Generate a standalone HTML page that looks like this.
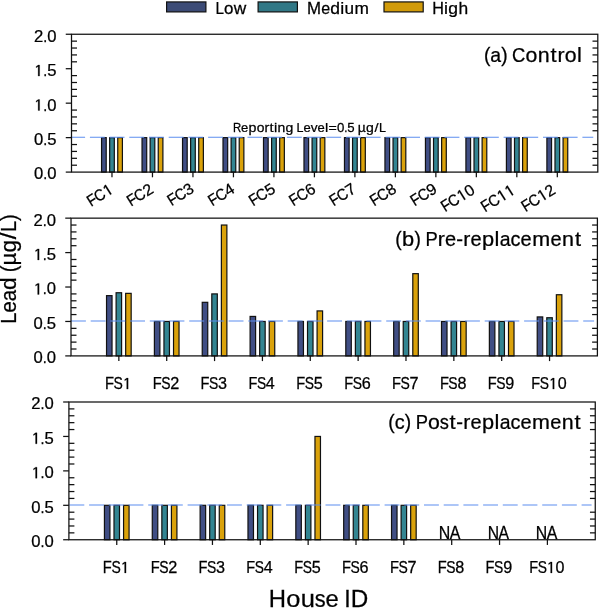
<!DOCTYPE html>
<html><head><meta charset="utf-8"><style>
html,body{margin:0;padding:0;background:#fff;}
svg{display:block;will-change:transform;}
text{font-family:"Liberation Sans", sans-serif;stroke:#000;stroke-width:0.25px;}
.one{stroke:#000;}
</style></head><body>
<svg width="600" height="609" viewBox="0 0 600 609">
<rect width="600" height="609" fill="#fff"/>
<rect x="166.60" y="1.93" width="39.30" height="9.97" fill="#3c4b76" stroke="#111" stroke-width="1.2"/>
<rect x="258.10" y="1.93" width="39.30" height="9.97" fill="#317886" stroke="#111" stroke-width="1.2"/>
<rect x="384.00" y="1.93" width="39.20" height="9.97" fill="#d19b0a" stroke="#111" stroke-width="1.2"/>
<rect x="101.56" y="137.64" width="4.66" height="34.46" fill="#404e84" stroke="#111" stroke-width="1.2"/>
<rect x="109.66" y="137.64" width="4.66" height="34.46" fill="#338592" stroke="#111" stroke-width="1.2"/>
<rect x="117.75" y="137.64" width="4.66" height="34.46" fill="#daa20b" stroke="#111" stroke-width="1.2"/>
<rect x="142.04" y="137.64" width="4.66" height="34.46" fill="#404e84" stroke="#111" stroke-width="1.2"/>
<rect x="150.14" y="137.64" width="4.66" height="34.46" fill="#338592" stroke="#111" stroke-width="1.2"/>
<rect x="158.24" y="137.64" width="4.66" height="34.46" fill="#daa20b" stroke="#111" stroke-width="1.2"/>
<rect x="182.53" y="137.64" width="4.66" height="34.46" fill="#404e84" stroke="#111" stroke-width="1.2"/>
<rect x="190.63" y="137.64" width="4.66" height="34.46" fill="#338592" stroke="#111" stroke-width="1.2"/>
<rect x="198.72" y="137.64" width="4.66" height="34.46" fill="#daa20b" stroke="#111" stroke-width="1.2"/>
<rect x="223.01" y="137.64" width="4.66" height="34.46" fill="#404e84" stroke="#111" stroke-width="1.2"/>
<rect x="231.11" y="137.64" width="4.66" height="34.46" fill="#338592" stroke="#111" stroke-width="1.2"/>
<rect x="239.21" y="137.64" width="4.66" height="34.46" fill="#daa20b" stroke="#111" stroke-width="1.2"/>
<rect x="263.50" y="137.64" width="4.66" height="34.46" fill="#404e84" stroke="#111" stroke-width="1.2"/>
<rect x="271.60" y="137.64" width="4.66" height="34.46" fill="#338592" stroke="#111" stroke-width="1.2"/>
<rect x="279.69" y="137.64" width="4.66" height="34.46" fill="#daa20b" stroke="#111" stroke-width="1.2"/>
<rect x="303.98" y="137.64" width="4.66" height="34.46" fill="#404e84" stroke="#111" stroke-width="1.2"/>
<rect x="312.08" y="137.64" width="4.66" height="34.46" fill="#338592" stroke="#111" stroke-width="1.2"/>
<rect x="320.18" y="137.64" width="4.66" height="34.46" fill="#daa20b" stroke="#111" stroke-width="1.2"/>
<rect x="344.47" y="137.64" width="4.66" height="34.46" fill="#404e84" stroke="#111" stroke-width="1.2"/>
<rect x="352.56" y="137.64" width="4.66" height="34.46" fill="#338592" stroke="#111" stroke-width="1.2"/>
<rect x="360.66" y="137.64" width="4.66" height="34.46" fill="#daa20b" stroke="#111" stroke-width="1.2"/>
<rect x="384.95" y="137.64" width="4.66" height="34.46" fill="#404e84" stroke="#111" stroke-width="1.2"/>
<rect x="393.05" y="137.64" width="4.66" height="34.46" fill="#338592" stroke="#111" stroke-width="1.2"/>
<rect x="401.15" y="137.64" width="4.66" height="34.46" fill="#daa20b" stroke="#111" stroke-width="1.2"/>
<rect x="425.44" y="137.64" width="4.66" height="34.46" fill="#404e84" stroke="#111" stroke-width="1.2"/>
<rect x="433.53" y="137.64" width="4.66" height="34.46" fill="#338592" stroke="#111" stroke-width="1.2"/>
<rect x="441.63" y="137.64" width="4.66" height="34.46" fill="#daa20b" stroke="#111" stroke-width="1.2"/>
<rect x="465.92" y="137.64" width="4.66" height="34.46" fill="#404e84" stroke="#111" stroke-width="1.2"/>
<rect x="474.02" y="137.64" width="4.66" height="34.46" fill="#338592" stroke="#111" stroke-width="1.2"/>
<rect x="482.12" y="137.64" width="4.66" height="34.46" fill="#daa20b" stroke="#111" stroke-width="1.2"/>
<rect x="506.41" y="137.64" width="4.66" height="34.46" fill="#404e84" stroke="#111" stroke-width="1.2"/>
<rect x="514.50" y="137.64" width="4.66" height="34.46" fill="#338592" stroke="#111" stroke-width="1.2"/>
<rect x="522.60" y="137.64" width="4.66" height="34.46" fill="#daa20b" stroke="#111" stroke-width="1.2"/>
<rect x="546.89" y="137.64" width="4.66" height="34.46" fill="#404e84" stroke="#111" stroke-width="1.2"/>
<rect x="554.99" y="137.64" width="4.66" height="34.46" fill="#338592" stroke="#111" stroke-width="1.2"/>
<rect x="563.08" y="137.64" width="4.66" height="34.46" fill="#daa20b" stroke="#111" stroke-width="1.2"/>
<line x1="70.20" y1="137.15" x2="593.25" y2="137.15" stroke="#5d8ef0" stroke-width="1.05" stroke-dasharray="14.9 4.8"/>
<rect x="71.50" y="34.25" width="526.30" height="137.85" fill="none" stroke="#111" stroke-width="1.25"/>
<line x1="65.75" y1="172.10" x2="71.50" y2="172.10" stroke="#111" stroke-width="1.25" />
<line x1="71.50" y1="165.21" x2="77.00" y2="165.21" stroke="#111" stroke-width="1.25" />
<line x1="592.50" y1="165.21" x2="597.80" y2="165.21" stroke="#111" stroke-width="1.25" />
<line x1="71.50" y1="158.31" x2="77.00" y2="158.31" stroke="#111" stroke-width="1.25" />
<line x1="592.50" y1="158.31" x2="597.80" y2="158.31" stroke="#111" stroke-width="1.25" />
<line x1="71.50" y1="151.42" x2="77.00" y2="151.42" stroke="#111" stroke-width="1.25" />
<line x1="592.50" y1="151.42" x2="597.80" y2="151.42" stroke="#111" stroke-width="1.25" />
<line x1="71.50" y1="144.53" x2="77.00" y2="144.53" stroke="#111" stroke-width="1.25" />
<line x1="592.50" y1="144.53" x2="597.80" y2="144.53" stroke="#111" stroke-width="1.25" />
<line x1="65.75" y1="137.64" x2="71.50" y2="137.64" stroke="#111" stroke-width="1.25" />
<line x1="71.50" y1="130.75" x2="77.00" y2="130.75" stroke="#111" stroke-width="1.25" />
<line x1="592.50" y1="130.75" x2="597.80" y2="130.75" stroke="#111" stroke-width="1.25" />
<line x1="71.50" y1="123.85" x2="77.00" y2="123.85" stroke="#111" stroke-width="1.25" />
<line x1="592.50" y1="123.85" x2="597.80" y2="123.85" stroke="#111" stroke-width="1.25" />
<line x1="71.50" y1="116.96" x2="77.00" y2="116.96" stroke="#111" stroke-width="1.25" />
<line x1="592.50" y1="116.96" x2="597.80" y2="116.96" stroke="#111" stroke-width="1.25" />
<line x1="71.50" y1="110.07" x2="77.00" y2="110.07" stroke="#111" stroke-width="1.25" />
<line x1="592.50" y1="110.07" x2="597.80" y2="110.07" stroke="#111" stroke-width="1.25" />
<line x1="65.75" y1="103.17" x2="71.50" y2="103.17" stroke="#111" stroke-width="1.25" />
<line x1="71.50" y1="96.28" x2="77.00" y2="96.28" stroke="#111" stroke-width="1.25" />
<line x1="592.50" y1="96.28" x2="597.80" y2="96.28" stroke="#111" stroke-width="1.25" />
<line x1="71.50" y1="89.39" x2="77.00" y2="89.39" stroke="#111" stroke-width="1.25" />
<line x1="592.50" y1="89.39" x2="597.80" y2="89.39" stroke="#111" stroke-width="1.25" />
<line x1="71.50" y1="82.50" x2="77.00" y2="82.50" stroke="#111" stroke-width="1.25" />
<line x1="592.50" y1="82.50" x2="597.80" y2="82.50" stroke="#111" stroke-width="1.25" />
<line x1="71.50" y1="75.61" x2="77.00" y2="75.61" stroke="#111" stroke-width="1.25" />
<line x1="592.50" y1="75.61" x2="597.80" y2="75.61" stroke="#111" stroke-width="1.25" />
<line x1="65.75" y1="68.71" x2="71.50" y2="68.71" stroke="#111" stroke-width="1.25" />
<line x1="71.50" y1="61.82" x2="77.00" y2="61.82" stroke="#111" stroke-width="1.25" />
<line x1="592.50" y1="61.82" x2="597.80" y2="61.82" stroke="#111" stroke-width="1.25" />
<line x1="71.50" y1="54.93" x2="77.00" y2="54.93" stroke="#111" stroke-width="1.25" />
<line x1="592.50" y1="54.93" x2="597.80" y2="54.93" stroke="#111" stroke-width="1.25" />
<line x1="71.50" y1="48.03" x2="77.00" y2="48.03" stroke="#111" stroke-width="1.25" />
<line x1="592.50" y1="48.03" x2="597.80" y2="48.03" stroke="#111" stroke-width="1.25" />
<line x1="71.50" y1="41.14" x2="77.00" y2="41.14" stroke="#111" stroke-width="1.25" />
<line x1="592.50" y1="41.14" x2="597.80" y2="41.14" stroke="#111" stroke-width="1.25" />
<line x1="65.75" y1="34.25" x2="71.50" y2="34.25" stroke="#111" stroke-width="1.25" />
<line x1="111.98" y1="172.10" x2="111.98" y2="177.30" stroke="#111" stroke-width="1.25" />
<line x1="152.47" y1="172.10" x2="152.47" y2="177.30" stroke="#111" stroke-width="1.25" />
<line x1="192.95" y1="172.10" x2="192.95" y2="177.30" stroke="#111" stroke-width="1.25" />
<line x1="233.44" y1="172.10" x2="233.44" y2="177.30" stroke="#111" stroke-width="1.25" />
<line x1="273.92" y1="172.10" x2="273.92" y2="177.30" stroke="#111" stroke-width="1.25" />
<line x1="314.41" y1="172.10" x2="314.41" y2="177.30" stroke="#111" stroke-width="1.25" />
<line x1="354.89" y1="172.10" x2="354.89" y2="177.30" stroke="#111" stroke-width="1.25" />
<line x1="395.38" y1="172.10" x2="395.38" y2="177.30" stroke="#111" stroke-width="1.25" />
<line x1="435.86" y1="172.10" x2="435.86" y2="177.30" stroke="#111" stroke-width="1.25" />
<line x1="476.35" y1="172.10" x2="476.35" y2="177.30" stroke="#111" stroke-width="1.25" />
<line x1="516.83" y1="172.10" x2="516.83" y2="177.30" stroke="#111" stroke-width="1.25" />
<line x1="557.32" y1="172.10" x2="557.32" y2="177.30" stroke="#111" stroke-width="1.25" />
<rect x="106.53" y="295.63" width="5.50" height="60.27" fill="#404e84" stroke="#111" stroke-width="1.2"/>
<rect x="116.10" y="292.74" width="5.50" height="63.16" fill="#338592" stroke="#111" stroke-width="1.2"/>
<rect x="125.67" y="293.36" width="5.50" height="62.54" fill="#daa20b" stroke="#111" stroke-width="1.2"/>
<rect x="154.39" y="321.46" width="5.50" height="34.44" fill="#404e84" stroke="#111" stroke-width="1.2"/>
<rect x="163.96" y="321.46" width="5.50" height="34.44" fill="#338592" stroke="#111" stroke-width="1.2"/>
<rect x="173.53" y="321.46" width="5.50" height="34.44" fill="#daa20b" stroke="#111" stroke-width="1.2"/>
<rect x="202.24" y="302.32" width="5.50" height="53.58" fill="#404e84" stroke="#111" stroke-width="1.2"/>
<rect x="211.81" y="293.91" width="5.50" height="61.99" fill="#338592" stroke="#111" stroke-width="1.2"/>
<rect x="221.38" y="225.04" width="5.50" height="130.86" fill="#daa20b" stroke="#111" stroke-width="1.2"/>
<rect x="250.10" y="316.43" width="5.50" height="39.47" fill="#404e84" stroke="#111" stroke-width="1.2"/>
<rect x="259.67" y="321.46" width="5.50" height="34.44" fill="#338592" stroke="#111" stroke-width="1.2"/>
<rect x="269.24" y="321.46" width="5.50" height="34.44" fill="#daa20b" stroke="#111" stroke-width="1.2"/>
<rect x="297.95" y="321.46" width="5.50" height="34.44" fill="#404e84" stroke="#111" stroke-width="1.2"/>
<rect x="307.52" y="321.46" width="5.50" height="34.44" fill="#338592" stroke="#111" stroke-width="1.2"/>
<rect x="317.09" y="310.92" width="5.50" height="44.98" fill="#daa20b" stroke="#111" stroke-width="1.2"/>
<rect x="345.80" y="321.46" width="5.50" height="34.44" fill="#404e84" stroke="#111" stroke-width="1.2"/>
<rect x="355.38" y="321.46" width="5.50" height="34.44" fill="#338592" stroke="#111" stroke-width="1.2"/>
<rect x="364.95" y="321.46" width="5.50" height="34.44" fill="#daa20b" stroke="#111" stroke-width="1.2"/>
<rect x="393.66" y="321.46" width="5.50" height="34.44" fill="#404e84" stroke="#111" stroke-width="1.2"/>
<rect x="403.23" y="321.46" width="5.50" height="34.44" fill="#338592" stroke="#111" stroke-width="1.2"/>
<rect x="412.80" y="273.66" width="5.50" height="82.24" fill="#daa20b" stroke="#111" stroke-width="1.2"/>
<rect x="441.51" y="321.46" width="5.50" height="34.44" fill="#404e84" stroke="#111" stroke-width="1.2"/>
<rect x="451.08" y="321.46" width="5.50" height="34.44" fill="#338592" stroke="#111" stroke-width="1.2"/>
<rect x="460.66" y="321.46" width="5.50" height="34.44" fill="#daa20b" stroke="#111" stroke-width="1.2"/>
<rect x="489.37" y="321.46" width="5.50" height="34.44" fill="#404e84" stroke="#111" stroke-width="1.2"/>
<rect x="498.94" y="321.46" width="5.50" height="34.44" fill="#338592" stroke="#111" stroke-width="1.2"/>
<rect x="508.51" y="321.46" width="5.50" height="34.44" fill="#daa20b" stroke="#111" stroke-width="1.2"/>
<rect x="537.22" y="316.92" width="5.50" height="38.98" fill="#404e84" stroke="#111" stroke-width="1.2"/>
<rect x="546.79" y="317.74" width="5.50" height="38.16" fill="#338592" stroke="#111" stroke-width="1.2"/>
<rect x="556.36" y="294.74" width="5.50" height="61.16" fill="#daa20b" stroke="#111" stroke-width="1.2"/>
<line x1="71.00" y1="321.00" x2="594.10" y2="321.00" stroke="#5d8ef0" stroke-width="1.05" stroke-dasharray="14.9 4.8"/>
<rect x="71.00" y="218.15" width="526.40" height="137.75" fill="none" stroke="#111" stroke-width="1.25"/>
<line x1="65.25" y1="355.90" x2="71.00" y2="355.90" stroke="#111" stroke-width="1.25" />
<line x1="71.00" y1="349.01" x2="76.50" y2="349.01" stroke="#111" stroke-width="1.25" />
<line x1="592.10" y1="349.01" x2="597.40" y2="349.01" stroke="#111" stroke-width="1.25" />
<line x1="71.00" y1="342.12" x2="76.50" y2="342.12" stroke="#111" stroke-width="1.25" />
<line x1="592.10" y1="342.12" x2="597.40" y2="342.12" stroke="#111" stroke-width="1.25" />
<line x1="71.00" y1="335.24" x2="76.50" y2="335.24" stroke="#111" stroke-width="1.25" />
<line x1="592.10" y1="335.24" x2="597.40" y2="335.24" stroke="#111" stroke-width="1.25" />
<line x1="71.00" y1="328.35" x2="76.50" y2="328.35" stroke="#111" stroke-width="1.25" />
<line x1="592.10" y1="328.35" x2="597.40" y2="328.35" stroke="#111" stroke-width="1.25" />
<line x1="65.25" y1="321.46" x2="71.00" y2="321.46" stroke="#111" stroke-width="1.25" />
<line x1="71.00" y1="314.57" x2="76.50" y2="314.57" stroke="#111" stroke-width="1.25" />
<line x1="592.10" y1="314.57" x2="597.40" y2="314.57" stroke="#111" stroke-width="1.25" />
<line x1="71.00" y1="307.69" x2="76.50" y2="307.69" stroke="#111" stroke-width="1.25" />
<line x1="592.10" y1="307.69" x2="597.40" y2="307.69" stroke="#111" stroke-width="1.25" />
<line x1="71.00" y1="300.80" x2="76.50" y2="300.80" stroke="#111" stroke-width="1.25" />
<line x1="592.10" y1="300.80" x2="597.40" y2="300.80" stroke="#111" stroke-width="1.25" />
<line x1="71.00" y1="293.91" x2="76.50" y2="293.91" stroke="#111" stroke-width="1.25" />
<line x1="592.10" y1="293.91" x2="597.40" y2="293.91" stroke="#111" stroke-width="1.25" />
<line x1="65.25" y1="287.02" x2="71.00" y2="287.02" stroke="#111" stroke-width="1.25" />
<line x1="71.00" y1="280.14" x2="76.50" y2="280.14" stroke="#111" stroke-width="1.25" />
<line x1="592.10" y1="280.14" x2="597.40" y2="280.14" stroke="#111" stroke-width="1.25" />
<line x1="71.00" y1="273.25" x2="76.50" y2="273.25" stroke="#111" stroke-width="1.25" />
<line x1="592.10" y1="273.25" x2="597.40" y2="273.25" stroke="#111" stroke-width="1.25" />
<line x1="71.00" y1="266.36" x2="76.50" y2="266.36" stroke="#111" stroke-width="1.25" />
<line x1="592.10" y1="266.36" x2="597.40" y2="266.36" stroke="#111" stroke-width="1.25" />
<line x1="71.00" y1="259.48" x2="76.50" y2="259.48" stroke="#111" stroke-width="1.25" />
<line x1="592.10" y1="259.48" x2="597.40" y2="259.48" stroke="#111" stroke-width="1.25" />
<line x1="65.25" y1="252.59" x2="71.00" y2="252.59" stroke="#111" stroke-width="1.25" />
<line x1="71.00" y1="245.70" x2="76.50" y2="245.70" stroke="#111" stroke-width="1.25" />
<line x1="592.10" y1="245.70" x2="597.40" y2="245.70" stroke="#111" stroke-width="1.25" />
<line x1="71.00" y1="238.81" x2="76.50" y2="238.81" stroke="#111" stroke-width="1.25" />
<line x1="592.10" y1="238.81" x2="597.40" y2="238.81" stroke="#111" stroke-width="1.25" />
<line x1="71.00" y1="231.93" x2="76.50" y2="231.93" stroke="#111" stroke-width="1.25" />
<line x1="592.10" y1="231.93" x2="597.40" y2="231.93" stroke="#111" stroke-width="1.25" />
<line x1="71.00" y1="225.04" x2="76.50" y2="225.04" stroke="#111" stroke-width="1.25" />
<line x1="592.10" y1="225.04" x2="597.40" y2="225.04" stroke="#111" stroke-width="1.25" />
<line x1="65.25" y1="218.15" x2="71.00" y2="218.15" stroke="#111" stroke-width="1.25" />
<line x1="118.85" y1="355.90" x2="118.85" y2="361.10" stroke="#111" stroke-width="1.25" />
<line x1="166.71" y1="355.90" x2="166.71" y2="361.10" stroke="#111" stroke-width="1.25" />
<line x1="214.56" y1="355.90" x2="214.56" y2="361.10" stroke="#111" stroke-width="1.25" />
<line x1="262.42" y1="355.90" x2="262.42" y2="361.10" stroke="#111" stroke-width="1.25" />
<line x1="310.27" y1="355.90" x2="310.27" y2="361.10" stroke="#111" stroke-width="1.25" />
<line x1="358.13" y1="355.90" x2="358.13" y2="361.10" stroke="#111" stroke-width="1.25" />
<line x1="405.98" y1="355.90" x2="405.98" y2="361.10" stroke="#111" stroke-width="1.25" />
<line x1="453.84" y1="355.90" x2="453.84" y2="361.10" stroke="#111" stroke-width="1.25" />
<line x1="501.69" y1="355.90" x2="501.69" y2="361.10" stroke="#111" stroke-width="1.25" />
<line x1="549.55" y1="355.90" x2="549.55" y2="361.10" stroke="#111" stroke-width="1.25" />
<rect x="104.43" y="505.31" width="5.50" height="34.44" fill="#404e84" stroke="#111" stroke-width="1.2"/>
<rect x="114.00" y="505.31" width="5.50" height="34.44" fill="#338592" stroke="#111" stroke-width="1.2"/>
<rect x="123.57" y="505.31" width="5.50" height="34.44" fill="#daa20b" stroke="#111" stroke-width="1.2"/>
<rect x="152.28" y="505.31" width="5.50" height="34.44" fill="#404e84" stroke="#111" stroke-width="1.2"/>
<rect x="161.85" y="505.31" width="5.50" height="34.44" fill="#338592" stroke="#111" stroke-width="1.2"/>
<rect x="171.42" y="505.31" width="5.50" height="34.44" fill="#daa20b" stroke="#111" stroke-width="1.2"/>
<rect x="200.13" y="505.31" width="5.50" height="34.44" fill="#404e84" stroke="#111" stroke-width="1.2"/>
<rect x="209.70" y="505.31" width="5.50" height="34.44" fill="#338592" stroke="#111" stroke-width="1.2"/>
<rect x="219.27" y="505.31" width="5.50" height="34.44" fill="#daa20b" stroke="#111" stroke-width="1.2"/>
<rect x="247.98" y="505.31" width="5.50" height="34.44" fill="#404e84" stroke="#111" stroke-width="1.2"/>
<rect x="257.55" y="505.31" width="5.50" height="34.44" fill="#338592" stroke="#111" stroke-width="1.2"/>
<rect x="267.12" y="505.31" width="5.50" height="34.44" fill="#daa20b" stroke="#111" stroke-width="1.2"/>
<rect x="295.83" y="505.31" width="5.50" height="34.44" fill="#404e84" stroke="#111" stroke-width="1.2"/>
<rect x="305.40" y="505.31" width="5.50" height="34.44" fill="#338592" stroke="#111" stroke-width="1.2"/>
<rect x="314.97" y="436.44" width="5.50" height="103.31" fill="#daa20b" stroke="#111" stroke-width="1.2"/>
<rect x="343.68" y="505.31" width="5.50" height="34.44" fill="#404e84" stroke="#111" stroke-width="1.2"/>
<rect x="353.25" y="505.31" width="5.50" height="34.44" fill="#338592" stroke="#111" stroke-width="1.2"/>
<rect x="362.82" y="505.31" width="5.50" height="34.44" fill="#daa20b" stroke="#111" stroke-width="1.2"/>
<rect x="391.53" y="505.31" width="5.50" height="34.44" fill="#404e84" stroke="#111" stroke-width="1.2"/>
<rect x="401.10" y="505.31" width="5.50" height="34.44" fill="#338592" stroke="#111" stroke-width="1.2"/>
<rect x="410.67" y="505.31" width="5.50" height="34.44" fill="#daa20b" stroke="#111" stroke-width="1.2"/>
<line x1="69.40" y1="505.00" x2="591.60" y2="505.00" stroke="#5d8ef0" stroke-width="1.05" stroke-dasharray="14.9 4.8"/>
<rect x="68.90" y="402.00" width="526.35" height="137.75" fill="none" stroke="#111" stroke-width="1.25"/>
<line x1="63.15" y1="539.75" x2="68.90" y2="539.75" stroke="#111" stroke-width="1.25" />
<line x1="68.90" y1="532.86" x2="74.40" y2="532.86" stroke="#111" stroke-width="1.25" />
<line x1="589.95" y1="532.86" x2="595.25" y2="532.86" stroke="#111" stroke-width="1.25" />
<line x1="68.90" y1="525.98" x2="74.40" y2="525.98" stroke="#111" stroke-width="1.25" />
<line x1="589.95" y1="525.98" x2="595.25" y2="525.98" stroke="#111" stroke-width="1.25" />
<line x1="68.90" y1="519.09" x2="74.40" y2="519.09" stroke="#111" stroke-width="1.25" />
<line x1="589.95" y1="519.09" x2="595.25" y2="519.09" stroke="#111" stroke-width="1.25" />
<line x1="68.90" y1="512.20" x2="74.40" y2="512.20" stroke="#111" stroke-width="1.25" />
<line x1="589.95" y1="512.20" x2="595.25" y2="512.20" stroke="#111" stroke-width="1.25" />
<line x1="63.15" y1="505.31" x2="68.90" y2="505.31" stroke="#111" stroke-width="1.25" />
<line x1="68.90" y1="498.43" x2="74.40" y2="498.43" stroke="#111" stroke-width="1.25" />
<line x1="589.95" y1="498.43" x2="595.25" y2="498.43" stroke="#111" stroke-width="1.25" />
<line x1="68.90" y1="491.54" x2="74.40" y2="491.54" stroke="#111" stroke-width="1.25" />
<line x1="589.95" y1="491.54" x2="595.25" y2="491.54" stroke="#111" stroke-width="1.25" />
<line x1="68.90" y1="484.65" x2="74.40" y2="484.65" stroke="#111" stroke-width="1.25" />
<line x1="589.95" y1="484.65" x2="595.25" y2="484.65" stroke="#111" stroke-width="1.25" />
<line x1="68.90" y1="477.76" x2="74.40" y2="477.76" stroke="#111" stroke-width="1.25" />
<line x1="589.95" y1="477.76" x2="595.25" y2="477.76" stroke="#111" stroke-width="1.25" />
<line x1="63.15" y1="470.88" x2="68.90" y2="470.88" stroke="#111" stroke-width="1.25" />
<line x1="68.90" y1="463.99" x2="74.40" y2="463.99" stroke="#111" stroke-width="1.25" />
<line x1="589.95" y1="463.99" x2="595.25" y2="463.99" stroke="#111" stroke-width="1.25" />
<line x1="68.90" y1="457.10" x2="74.40" y2="457.10" stroke="#111" stroke-width="1.25" />
<line x1="589.95" y1="457.10" x2="595.25" y2="457.10" stroke="#111" stroke-width="1.25" />
<line x1="68.90" y1="450.21" x2="74.40" y2="450.21" stroke="#111" stroke-width="1.25" />
<line x1="589.95" y1="450.21" x2="595.25" y2="450.21" stroke="#111" stroke-width="1.25" />
<line x1="68.90" y1="443.32" x2="74.40" y2="443.32" stroke="#111" stroke-width="1.25" />
<line x1="589.95" y1="443.32" x2="595.25" y2="443.32" stroke="#111" stroke-width="1.25" />
<line x1="63.15" y1="436.44" x2="68.90" y2="436.44" stroke="#111" stroke-width="1.25" />
<line x1="68.90" y1="429.55" x2="74.40" y2="429.55" stroke="#111" stroke-width="1.25" />
<line x1="589.95" y1="429.55" x2="595.25" y2="429.55" stroke="#111" stroke-width="1.25" />
<line x1="68.90" y1="422.66" x2="74.40" y2="422.66" stroke="#111" stroke-width="1.25" />
<line x1="589.95" y1="422.66" x2="595.25" y2="422.66" stroke="#111" stroke-width="1.25" />
<line x1="68.90" y1="415.77" x2="74.40" y2="415.77" stroke="#111" stroke-width="1.25" />
<line x1="589.95" y1="415.77" x2="595.25" y2="415.77" stroke="#111" stroke-width="1.25" />
<line x1="68.90" y1="408.89" x2="74.40" y2="408.89" stroke="#111" stroke-width="1.25" />
<line x1="589.95" y1="408.89" x2="595.25" y2="408.89" stroke="#111" stroke-width="1.25" />
<line x1="63.15" y1="402.00" x2="68.90" y2="402.00" stroke="#111" stroke-width="1.25" />
<line x1="116.75" y1="539.75" x2="116.75" y2="544.95" stroke="#111" stroke-width="1.25" />
<line x1="164.60" y1="539.75" x2="164.60" y2="544.95" stroke="#111" stroke-width="1.25" />
<line x1="212.45" y1="539.75" x2="212.45" y2="544.95" stroke="#111" stroke-width="1.25" />
<line x1="260.30" y1="539.75" x2="260.30" y2="544.95" stroke="#111" stroke-width="1.25" />
<line x1="308.15" y1="539.75" x2="308.15" y2="544.95" stroke="#111" stroke-width="1.25" />
<line x1="356.00" y1="539.75" x2="356.00" y2="544.95" stroke="#111" stroke-width="1.25" />
<line x1="403.85" y1="539.75" x2="403.85" y2="544.95" stroke="#111" stroke-width="1.25" />
<line x1="451.70" y1="539.75" x2="451.70" y2="544.95" stroke="#111" stroke-width="1.25" />
<line x1="499.55" y1="539.75" x2="499.55" y2="544.95" stroke="#111" stroke-width="1.25" />
<line x1="547.40" y1="539.75" x2="547.40" y2="544.95" stroke="#111" stroke-width="1.25" />
<g transform="translate(215.53,14.00)"><text transform="translate(-0.09,0) scale(0.953,1)" font-size="16" fill="#000">L</text><text transform="translate(8.43,0) scale(1.060,1)" font-size="16" fill="#000">o</text><text transform="translate(18.20,0) scale(1.084,1)" font-size="16" fill="#000">w</text></g>
<g transform="translate(306.76,14.00)"><text transform="translate(0.16,0) scale(1.054,1)" font-size="16" fill="#000">M</text><text transform="translate(14.38,0) scale(1.004,1)" font-size="16" fill="#000">e</text><text transform="translate(23.50,0) scale(1.091,1)" font-size="16" fill="#000">d</text><text transform="translate(33.50,0) scale(1.120,1)" font-size="16" fill="#000">i</text><text transform="translate(37.73,0) scale(1.073,1)" font-size="16" fill="#000">u</text><text transform="translate(47.67,0) scale(1.081,1)" font-size="16" fill="#000">m</text></g>
<g transform="translate(432.13,13.80)"><text transform="translate(0.04,0) scale(1.014,1)" font-size="16" fill="#000">H</text><text transform="translate(11.92,0) scale(1.120,1)" font-size="16" fill="#000">i</text><text transform="translate(16.22,0) scale(1.094,1)" font-size="16" fill="#000">g</text><text transform="translate(26.32,0) scale(1.088,1)" font-size="16" fill="#000">h</text></g>
<g transform="translate(33.88,179.45)"><text transform="translate(0.08,0) scale(1.041,1)" font-size="16" fill="#000">0</text><text transform="translate(9.33,0) scale(0.896,1)" font-size="16" fill="#000">.</text><text transform="translate(13.31,0) scale(1.041,1)" font-size="16" fill="#000">0</text></g>
<g transform="translate(33.88,144.99)"><text transform="translate(0.08,0) scale(1.041,1)" font-size="16" fill="#000">0</text><text transform="translate(9.33,0) scale(0.896,1)" font-size="16" fill="#000">.</text><text transform="translate(13.31,0) scale(1.041,1)" font-size="16" fill="#000">5</text></g>
<g transform="translate(33.88,110.52)"><path class="one" d="M515,0L515,1237L265,1060L265,1226L530,1409L696,1409L696,0Z" fill="#000" stroke-width="32.00" transform="translate(0.08,0) scale(0.00813,-0.00781)"/><text transform="translate(9.33,0) scale(0.896,1)" font-size="16" fill="#000">.</text><text transform="translate(13.31,0) scale(1.041,1)" font-size="16" fill="#000">0</text></g>
<g transform="translate(33.88,76.06)"><path class="one" d="M515,0L515,1237L265,1060L265,1226L530,1409L696,1409L696,0Z" fill="#000" stroke-width="32.00" transform="translate(0.08,0) scale(0.00813,-0.00781)"/><text transform="translate(9.33,0) scale(0.896,1)" font-size="16" fill="#000">.</text><text transform="translate(13.31,0) scale(1.041,1)" font-size="16" fill="#000">5</text></g>
<g transform="translate(33.88,41.60)"><text transform="translate(0.08,0) scale(1.041,1)" font-size="16" fill="#000">2</text><text transform="translate(9.33,0) scale(0.896,1)" font-size="16" fill="#000">.</text><text transform="translate(13.31,0) scale(1.041,1)" font-size="16" fill="#000">0</text></g>
<g transform="translate(91.06,206.90) rotate(-32)"><text transform="translate(-0.18,0) scale(0.909,1)" font-size="16" fill="#000">F</text><text transform="translate(8.32,0) scale(0.913,1)" font-size="16" fill="#000">C</text><path class="one" d="M515,0L515,1237L265,1060L265,1226L530,1409L696,1409L696,0Z" fill="#000" stroke-width="32.00" transform="translate(18.68,0) scale(0.00786,-0.00781)"/></g>
<g transform="translate(131.06,206.70) rotate(-32)"><text transform="translate(-0.18,0) scale(0.909,1)" font-size="16" fill="#000">F</text><text transform="translate(8.32,0) scale(0.913,1)" font-size="16" fill="#000">C</text><text transform="translate(18.68,0) scale(1.006,1)" font-size="16" fill="#000">2</text></g>
<g transform="translate(171.76,206.20) rotate(-32)"><text transform="translate(-0.18,0) scale(0.909,1)" font-size="16" fill="#000">F</text><text transform="translate(8.32,0) scale(0.913,1)" font-size="16" fill="#000">C</text><text transform="translate(18.68,0) scale(1.006,1)" font-size="16" fill="#000">3</text></g>
<g transform="translate(212.36,206.40) rotate(-32)"><text transform="translate(-0.18,0) scale(0.909,1)" font-size="16" fill="#000">F</text><text transform="translate(8.32,0) scale(0.913,1)" font-size="16" fill="#000">C</text><text transform="translate(18.68,0) scale(1.006,1)" font-size="16" fill="#000">4</text></g>
<g transform="translate(253.06,206.40) rotate(-32)"><text transform="translate(-0.18,0) scale(0.909,1)" font-size="16" fill="#000">F</text><text transform="translate(8.32,0) scale(0.913,1)" font-size="16" fill="#000">C</text><text transform="translate(18.68,0) scale(1.006,1)" font-size="16" fill="#000">5</text></g>
<g transform="translate(293.36,206.40) rotate(-32)"><text transform="translate(-0.18,0) scale(0.909,1)" font-size="16" fill="#000">F</text><text transform="translate(8.32,0) scale(0.913,1)" font-size="16" fill="#000">C</text><text transform="translate(18.68,0) scale(1.006,1)" font-size="16" fill="#000">6</text></g>
<g transform="translate(333.76,206.40) rotate(-32)"><text transform="translate(-0.18,0) scale(0.909,1)" font-size="16" fill="#000">F</text><text transform="translate(8.32,0) scale(0.913,1)" font-size="16" fill="#000">C</text><text transform="translate(18.68,0) scale(1.006,1)" font-size="16" fill="#000">7</text></g>
<g transform="translate(374.06,206.40) rotate(-32)"><text transform="translate(-0.18,0) scale(0.909,1)" font-size="16" fill="#000">F</text><text transform="translate(8.32,0) scale(0.913,1)" font-size="16" fill="#000">C</text><text transform="translate(18.68,0) scale(1.006,1)" font-size="16" fill="#000">8</text></g>
<g transform="translate(414.66,206.40) rotate(-32)"><text transform="translate(-0.18,0) scale(0.909,1)" font-size="16" fill="#000">F</text><text transform="translate(8.32,0) scale(0.913,1)" font-size="16" fill="#000">C</text><text transform="translate(18.68,0) scale(1.006,1)" font-size="16" fill="#000">9</text></g>
<g transform="translate(445.06,212.10) rotate(-32)"><text transform="translate(-0.18,0) scale(0.909,1)" font-size="16" fill="#000">F</text><text transform="translate(8.32,0) scale(0.913,1)" font-size="16" fill="#000">C</text><path class="one" d="M515,0L515,1237L265,1060L265,1226L530,1409L696,1409L696,0Z" fill="#000" stroke-width="32.00" transform="translate(18.68,0) scale(0.00786,-0.00781)"/><text transform="translate(27.66,0) scale(1.006,1)" font-size="16" fill="#000">0</text></g>
<g transform="translate(485.26,212.40) rotate(-32)"><text transform="translate(-0.18,0) scale(0.909,1)" font-size="16" fill="#000">F</text><text transform="translate(8.32,0) scale(0.913,1)" font-size="16" fill="#000">C</text><path class="one" d="M515,0L515,1237L265,1060L265,1226L530,1409L696,1409L696,0Z" fill="#000" stroke-width="32.00" transform="translate(18.68,0) scale(0.00786,-0.00781)"/><path class="one" d="M515,0L515,1237L265,1060L265,1226L530,1409L696,1409L696,0Z" fill="#000" stroke-width="32.00" transform="translate(27.66,0) scale(0.00786,-0.00781)"/></g>
<g transform="translate(525.56,212.10) rotate(-32)"><text transform="translate(-0.18,0) scale(0.909,1)" font-size="16" fill="#000">F</text><text transform="translate(8.32,0) scale(0.913,1)" font-size="16" fill="#000">C</text><path class="one" d="M515,0L515,1237L265,1060L265,1226L530,1409L696,1409L696,0Z" fill="#000" stroke-width="32.00" transform="translate(18.68,0) scale(0.00786,-0.00781)"/><text transform="translate(27.66,0) scale(1.006,1)" font-size="16" fill="#000">2</text></g>
<g transform="translate(484.03,62.00)"><text transform="translate(-0.02,0) scale(0.985,1)" font-size="19.5" fill="#000">(</text><text transform="translate(6.34,0) scale(0.996,1)" font-size="19.5" fill="#000">a</text><text transform="translate(17.11,0) scale(0.985,1)" font-size="19.5" fill="#000">)</text><text transform="translate(28.06,0) scale(0.944,1)" font-size="19.5" fill="#000">C</text><text transform="translate(41.41,0) scale(1.091,1)" font-size="19.5" fill="#000">o</text><text transform="translate(53.71,0) scale(1.099,1)" font-size="19.5" fill="#000">n</text><text transform="translate(66.54,0) scale(1.120,1)" font-size="19.5" fill="#000">t</text><text transform="translate(73.41,0) scale(1.087,1)" font-size="19.5" fill="#000">r</text><text transform="translate(80.81,0) scale(1.091,1)" font-size="19.5" fill="#000">o</text><text transform="translate(93.08,0) scale(1.120,1)" font-size="19.5" fill="#000">l</text></g>
<g transform="translate(33.38,363.25)"><text transform="translate(0.08,0) scale(1.041,1)" font-size="16" fill="#000">0</text><text transform="translate(9.33,0) scale(0.896,1)" font-size="16" fill="#000">.</text><text transform="translate(13.31,0) scale(1.041,1)" font-size="16" fill="#000">0</text></g>
<g transform="translate(33.38,328.81)"><text transform="translate(0.08,0) scale(1.041,1)" font-size="16" fill="#000">0</text><text transform="translate(9.33,0) scale(0.896,1)" font-size="16" fill="#000">.</text><text transform="translate(13.31,0) scale(1.041,1)" font-size="16" fill="#000">5</text></g>
<g transform="translate(33.38,294.38)"><path class="one" d="M515,0L515,1237L265,1060L265,1226L530,1409L696,1409L696,0Z" fill="#000" stroke-width="32.00" transform="translate(0.08,0) scale(0.00813,-0.00781)"/><text transform="translate(9.33,0) scale(0.896,1)" font-size="16" fill="#000">.</text><text transform="translate(13.31,0) scale(1.041,1)" font-size="16" fill="#000">0</text></g>
<g transform="translate(33.38,259.94)"><path class="one" d="M515,0L515,1237L265,1060L265,1226L530,1409L696,1409L696,0Z" fill="#000" stroke-width="32.00" transform="translate(0.08,0) scale(0.00813,-0.00781)"/><text transform="translate(9.33,0) scale(0.896,1)" font-size="16" fill="#000">.</text><text transform="translate(13.31,0) scale(1.041,1)" font-size="16" fill="#000">5</text></g>
<g transform="translate(33.38,225.50)"><text transform="translate(0.08,0) scale(1.041,1)" font-size="16" fill="#000">2</text><text transform="translate(9.33,0) scale(0.896,1)" font-size="16" fill="#000">.</text><text transform="translate(13.31,0) scale(1.041,1)" font-size="16" fill="#000">0</text></g>
<g transform="translate(105.10,389.10)"><text transform="translate(-0.16,0) scale(0.920,1)" font-size="16" fill="#000">F</text><text transform="translate(8.42,0) scale(0.873,1)" font-size="16" fill="#000">S</text><path class="one" d="M515,0L515,1237L265,1060L265,1226L530,1409L696,1409L696,0Z" fill="#000" stroke-width="32.00" transform="translate(17.51,0) scale(0.00796,-0.00781)"/></g>
<g transform="translate(152.92,389.10)"><text transform="translate(-0.16,0) scale(0.917,1)" font-size="16" fill="#000">F</text><text transform="translate(8.37,0) scale(0.870,1)" font-size="16" fill="#000">S</text><text transform="translate(17.42,0) scale(1.016,1)" font-size="16" fill="#000">2</text></g>
<g transform="translate(200.78,389.10)"><text transform="translate(-0.17,0) scale(0.914,1)" font-size="16" fill="#000">F</text><text transform="translate(8.33,0) scale(0.867,1)" font-size="16" fill="#000">S</text><text transform="translate(17.33,0) scale(1.013,1)" font-size="16" fill="#000">3</text></g>
<g transform="translate(248.66,389.10)"><text transform="translate(-0.18,0) scale(0.908,1)" font-size="16" fill="#000">F</text><text transform="translate(8.23,0) scale(0.861,1)" font-size="16" fill="#000">S</text><text transform="translate(17.14,0) scale(1.005,1)" font-size="16" fill="#000">4</text></g>
<g transform="translate(296.49,389.10)"><text transform="translate(-0.17,0) scale(0.914,1)" font-size="16" fill="#000">F</text><text transform="translate(8.31,0) scale(0.866,1)" font-size="16" fill="#000">S</text><text transform="translate(17.31,0) scale(1.012,1)" font-size="16" fill="#000">5</text></g>
<g transform="translate(344.35,389.10)"><text transform="translate(-0.17,0) scale(0.914,1)" font-size="16" fill="#000">F</text><text transform="translate(8.33,0) scale(0.867,1)" font-size="16" fill="#000">S</text><text transform="translate(17.33,0) scale(1.013,1)" font-size="16" fill="#000">6</text></g>
<g transform="translate(392.19,389.10)"><text transform="translate(-0.16,0) scale(0.917,1)" font-size="16" fill="#000">F</text><text transform="translate(8.37,0) scale(0.870,1)" font-size="16" fill="#000">S</text><text transform="translate(17.42,0) scale(1.016,1)" font-size="16" fill="#000">7</text></g>
<g transform="translate(440.05,389.10)"><text transform="translate(-0.17,0) scale(0.914,1)" font-size="16" fill="#000">F</text><text transform="translate(8.32,0) scale(0.867,1)" font-size="16" fill="#000">S</text><text transform="translate(17.33,0) scale(1.012,1)" font-size="16" fill="#000">8</text></g>
<g transform="translate(487.90,389.10)"><text transform="translate(-0.17,0) scale(0.916,1)" font-size="16" fill="#000">F</text><text transform="translate(8.35,0) scale(0.869,1)" font-size="16" fill="#000">S</text><text transform="translate(17.38,0) scale(1.014,1)" font-size="16" fill="#000">9</text></g>
<g transform="translate(531.53,389.10)"><text transform="translate(-0.18,0) scale(0.910,1)" font-size="16" fill="#000">F</text><text transform="translate(8.25,0) scale(0.863,1)" font-size="16" fill="#000">S</text><path class="one" d="M515,0L515,1237L265,1060L265,1226L530,1409L696,1409L696,0Z" fill="#000" stroke-width="32.00" transform="translate(17.19,0) scale(0.00787,-0.00781)"/><text transform="translate(26.18,0) scale(1.007,1)" font-size="16" fill="#000">0</text></g>
<g transform="translate(395.32,246.00)"><text transform="translate(-0.02,0) scale(0.987,1)" font-size="19.5" fill="#000">(</text><text transform="translate(6.69,0) scale(1.120,1)" font-size="19.5" fill="#000">b</text><text transform="translate(19.13,0) scale(0.987,1)" font-size="19.5" fill="#000">)</text><text transform="translate(30.12,0) scale(0.942,1)" font-size="19.5" fill="#000">P</text><text transform="translate(42.35,0) scale(1.089,1)" font-size="19.5" fill="#000">r</text><text transform="translate(49.62,0) scale(1.026,1)" font-size="19.5" fill="#000">e</text><text transform="translate(60.86,0) scale(1.042,1)" font-size="19.5" fill="#000">-</text><text transform="translate(67.83,0) scale(1.089,1)" font-size="19.5" fill="#000">r</text><text transform="translate(75.09,0) scale(1.026,1)" font-size="19.5" fill="#000">e</text><text transform="translate(86.59,0) scale(1.120,1)" font-size="19.5" fill="#000">p</text><text transform="translate(99.27,0) scale(1.120,1)" font-size="19.5" fill="#000">l</text><text transform="translate(104.34,0) scale(0.998,1)" font-size="19.5" fill="#000">a</text><text transform="translate(115.21,0) scale(1.022,1)" font-size="19.5" fill="#000">c</text><text transform="translate(125.28,0) scale(1.026,1)" font-size="19.5" fill="#000">e</text><text transform="translate(136.86,0) scale(1.104,1)" font-size="19.5" fill="#000">m</text><text transform="translate(155.25,0) scale(1.026,1)" font-size="19.5" fill="#000">e</text><text transform="translate(166.68,0) scale(1.102,1)" font-size="19.5" fill="#000">n</text><text transform="translate(179.57,0) scale(1.120,1)" font-size="19.5" fill="#000">t</text></g>
<g transform="translate(31.28,547.10)"><text transform="translate(0.08,0) scale(1.041,1)" font-size="16" fill="#000">0</text><text transform="translate(9.33,0) scale(0.896,1)" font-size="16" fill="#000">.</text><text transform="translate(13.31,0) scale(1.041,1)" font-size="16" fill="#000">0</text></g>
<g transform="translate(31.28,512.66)"><text transform="translate(0.08,0) scale(1.041,1)" font-size="16" fill="#000">0</text><text transform="translate(9.33,0) scale(0.896,1)" font-size="16" fill="#000">.</text><text transform="translate(13.31,0) scale(1.041,1)" font-size="16" fill="#000">5</text></g>
<g transform="translate(31.28,478.23)"><path class="one" d="M515,0L515,1237L265,1060L265,1226L530,1409L696,1409L696,0Z" fill="#000" stroke-width="32.00" transform="translate(0.08,0) scale(0.00813,-0.00781)"/><text transform="translate(9.33,0) scale(0.896,1)" font-size="16" fill="#000">.</text><text transform="translate(13.31,0) scale(1.041,1)" font-size="16" fill="#000">0</text></g>
<g transform="translate(31.28,443.79)"><path class="one" d="M515,0L515,1237L265,1060L265,1226L530,1409L696,1409L696,0Z" fill="#000" stroke-width="32.00" transform="translate(0.08,0) scale(0.00813,-0.00781)"/><text transform="translate(9.33,0) scale(0.896,1)" font-size="16" fill="#000">.</text><text transform="translate(13.31,0) scale(1.041,1)" font-size="16" fill="#000">5</text></g>
<g transform="translate(31.28,409.35)"><text transform="translate(0.08,0) scale(1.041,1)" font-size="16" fill="#000">2</text><text transform="translate(9.33,0) scale(0.896,1)" font-size="16" fill="#000">.</text><text transform="translate(13.31,0) scale(1.041,1)" font-size="16" fill="#000">0</text></g>
<g transform="translate(103.00,572.95)"><text transform="translate(-0.16,0) scale(0.920,1)" font-size="16" fill="#000">F</text><text transform="translate(8.42,0) scale(0.873,1)" font-size="16" fill="#000">S</text><path class="one" d="M515,0L515,1237L265,1060L265,1226L530,1409L696,1409L696,0Z" fill="#000" stroke-width="32.00" transform="translate(17.51,0) scale(0.00796,-0.00781)"/></g>
<g transform="translate(150.81,572.95)"><text transform="translate(-0.16,0) scale(0.917,1)" font-size="16" fill="#000">F</text><text transform="translate(8.37,0) scale(0.870,1)" font-size="16" fill="#000">S</text><text transform="translate(17.42,0) scale(1.016,1)" font-size="16" fill="#000">2</text></g>
<g transform="translate(198.67,572.95)"><text transform="translate(-0.17,0) scale(0.914,1)" font-size="16" fill="#000">F</text><text transform="translate(8.33,0) scale(0.867,1)" font-size="16" fill="#000">S</text><text transform="translate(17.33,0) scale(1.013,1)" font-size="16" fill="#000">3</text></g>
<g transform="translate(246.54,572.95)"><text transform="translate(-0.18,0) scale(0.908,1)" font-size="16" fill="#000">F</text><text transform="translate(8.23,0) scale(0.861,1)" font-size="16" fill="#000">S</text><text transform="translate(17.14,0) scale(1.005,1)" font-size="16" fill="#000">4</text></g>
<g transform="translate(294.37,572.95)"><text transform="translate(-0.17,0) scale(0.914,1)" font-size="16" fill="#000">F</text><text transform="translate(8.31,0) scale(0.866,1)" font-size="16" fill="#000">S</text><text transform="translate(17.31,0) scale(1.012,1)" font-size="16" fill="#000">5</text></g>
<g transform="translate(342.22,572.95)"><text transform="translate(-0.17,0) scale(0.914,1)" font-size="16" fill="#000">F</text><text transform="translate(8.33,0) scale(0.867,1)" font-size="16" fill="#000">S</text><text transform="translate(17.33,0) scale(1.013,1)" font-size="16" fill="#000">6</text></g>
<g transform="translate(390.06,572.95)"><text transform="translate(-0.16,0) scale(0.917,1)" font-size="16" fill="#000">F</text><text transform="translate(8.37,0) scale(0.870,1)" font-size="16" fill="#000">S</text><text transform="translate(17.42,0) scale(1.016,1)" font-size="16" fill="#000">7</text></g>
<g transform="translate(437.92,572.95)"><text transform="translate(-0.17,0) scale(0.914,1)" font-size="16" fill="#000">F</text><text transform="translate(8.32,0) scale(0.867,1)" font-size="16" fill="#000">S</text><text transform="translate(17.33,0) scale(1.012,1)" font-size="16" fill="#000">8</text></g>
<g transform="translate(439.02,539.35)"><text transform="translate(-0.23,0) scale(0.910,1)" font-size="17.5" fill="#000">N</text><text transform="translate(10.84,0) scale(0.914,1)" font-size="17.5" fill="#000">A</text></g>
<g transform="translate(485.76,572.95)"><text transform="translate(-0.17,0) scale(0.916,1)" font-size="16" fill="#000">F</text><text transform="translate(8.35,0) scale(0.869,1)" font-size="16" fill="#000">S</text><text transform="translate(17.38,0) scale(1.014,1)" font-size="16" fill="#000">9</text></g>
<g transform="translate(487.98,539.35)"><text transform="translate(-0.26,0) scale(0.895,1)" font-size="17.5" fill="#000">N</text><text transform="translate(10.55,0) scale(0.899,1)" font-size="17.5" fill="#000">A</text></g>
<g transform="translate(529.38,572.95)"><text transform="translate(-0.18,0) scale(0.910,1)" font-size="16" fill="#000">F</text><text transform="translate(8.25,0) scale(0.863,1)" font-size="16" fill="#000">S</text><path class="one" d="M515,0L515,1237L265,1060L265,1226L530,1409L696,1409L696,0Z" fill="#000" stroke-width="32.00" transform="translate(17.19,0) scale(0.00787,-0.00781)"/><text transform="translate(26.18,0) scale(1.007,1)" font-size="16" fill="#000">0</text></g>
<g transform="translate(535.94,539.35)"><text transform="translate(-0.24,0) scale(0.904,1)" font-size="17.5" fill="#000">N</text><text transform="translate(10.73,0) scale(0.909,1)" font-size="17.5" fill="#000">A</text></g>
<g transform="translate(388.33,429.00)"><text transform="translate(-0.02,0) scale(0.985,1)" font-size="19.5" fill="#000">(</text><text transform="translate(6.39,0) scale(1.019,1)" font-size="19.5" fill="#000">c</text><text transform="translate(16.35,0) scale(0.985,1)" font-size="19.5" fill="#000">)</text><text transform="translate(27.31,0) scale(0.940,1)" font-size="19.5" fill="#000">P</text><text transform="translate(39.59,0) scale(1.091,1)" font-size="19.5" fill="#000">o</text><text transform="translate(51.52,0) scale(0.935,1)" font-size="19.5" fill="#000">s</text><text transform="translate(61.18,0) scale(1.120,1)" font-size="19.5" fill="#000">t</text><text transform="translate(67.97,0) scale(1.040,1)" font-size="19.5" fill="#000">-</text><text transform="translate(74.91,0) scale(1.087,1)" font-size="19.5" fill="#000">r</text><text transform="translate(82.15,0) scale(1.023,1)" font-size="19.5" fill="#000">e</text><text transform="translate(93.60,0) scale(1.119,1)" font-size="19.5" fill="#000">p</text><text transform="translate(106.24,0) scale(1.120,1)" font-size="19.5" fill="#000">l</text><text transform="translate(111.30,0) scale(0.996,1)" font-size="19.5" fill="#000">a</text><text transform="translate(122.13,0) scale(1.019,1)" font-size="19.5" fill="#000">c</text><text transform="translate(132.16,0) scale(1.023,1)" font-size="19.5" fill="#000">e</text><text transform="translate(143.70,0) scale(1.102,1)" font-size="19.5" fill="#000">m</text><text transform="translate(162.03,0) scale(1.023,1)" font-size="19.5" fill="#000">e</text><text transform="translate(173.43,0) scale(1.099,1)" font-size="19.5" fill="#000">n</text><text transform="translate(186.26,0) scale(1.120,1)" font-size="19.5" fill="#000">t</text></g>
<g transform="translate(233.29,131.50)"><text transform="translate(-0.23,0) scale(0.877,1)" font-size="13" fill="#000">R</text><text transform="translate(7.78,0) scale(1.001,1)" font-size="13" fill="#000">e</text><text transform="translate(15.18,0) scale(1.095,1)" font-size="13" fill="#000">p</text><text transform="translate(23.36,0) scale(1.068,1)" font-size="13" fill="#000">o</text><text transform="translate(31.25,0) scale(1.064,1)" font-size="13" fill="#000">r</text><text transform="translate(36.29,0) scale(1.120,1)" font-size="13" fill="#000">t</text><text transform="translate(40.79,0) scale(1.117,1)" font-size="13" fill="#000">i</text><text transform="translate(44.22,0) scale(1.076,1)" font-size="13" fill="#000">n</text><text transform="translate(52.25,0) scale(1.081,1)" font-size="13" fill="#000">g</text><text transform="translate(63.21,0) scale(0.961,1)" font-size="13" fill="#000">L</text><text transform="translate(70.10,0) scale(1.001,1)" font-size="13" fill="#000">e</text><text transform="translate(77.41,0) scale(1.049,1)" font-size="13" fill="#000">v</text><text transform="translate(84.30,0) scale(1.001,1)" font-size="13" fill="#000">e</text><text transform="translate(91.63,0) scale(1.120,1)" font-size="13" fill="#000">l</text><text transform="translate(95.11,0) scale(1.093,1)" font-size="13" fill="#000">=</text><text transform="translate(103.60,0) scale(1.018,1)" font-size="13" fill="#000">0</text><text transform="translate(110.90,0) scale(0.877,1)" font-size="13" fill="#000">.</text><text transform="translate(114.01,0) scale(1.018,1)" font-size="13" fill="#000">5</text><text transform="translate(124.58,0) scale(1.068,1)" font-size="13" fill="#000">µ</text><text transform="translate(132.83,0) scale(1.081,1)" font-size="13" fill="#000">g</text><text transform="translate(141.24,0) scale(1.120,1)" font-size="13" fill="#000">/</text><text transform="translate(145.68,0) scale(0.961,1)" font-size="13" fill="#000">L</text></g>
<g transform="translate(16.45,323.51) rotate(-90)"><text transform="translate(-0.16,0) scale(0.934,1)" font-size="21.5" fill="#000">L</text><text transform="translate(10.79,0) scale(0.974,1)" font-size="21.5" fill="#000">e</text><text transform="translate(22.25,0) scale(0.948,1)" font-size="21.5" fill="#000">a</text><text transform="translate(33.62,0) scale(1.059,1)" font-size="21.5" fill="#000">d</text><text transform="translate(51.21,0) scale(0.938,1)" font-size="21.5" fill="#000">(</text><text transform="translate(57.94,0) scale(1.039,1)" font-size="21.5" fill="#000">µ</text><text transform="translate(71.06,0) scale(1.052,1)" font-size="21.5" fill="#000">g</text><text transform="translate(84.37,0) scale(1.120,1)" font-size="21.5" fill="#000">/</text><text transform="translate(91.50,0) scale(0.934,1)" font-size="21.5" fill="#000">L</text><text transform="translate(102.42,0) scale(0.938,1)" font-size="21.5" fill="#000">)</text></g>
<g transform="translate(268.76,606.80)"><text transform="translate(-0.02,0) scale(0.995,1)" font-size="24" fill="#000">H</text><text transform="translate(17.39,0) scale(1.059,1)" font-size="24" fill="#000">o</text><text transform="translate(31.90,0) scale(1.062,1)" font-size="24" fill="#000">u</text><text transform="translate(46.04,0) scale(0.908,1)" font-size="24" fill="#000">s</text><text transform="translate(56.70,0) scale(0.994,1)" font-size="24" fill="#000">e</text><text transform="translate(75.49,0) scale(0.962,1)" font-size="24" fill="#000">I</text><text transform="translate(81.89,0) scale(1.010,1)" font-size="24" fill="#000">D</text></g>
</svg>
</body></html>
